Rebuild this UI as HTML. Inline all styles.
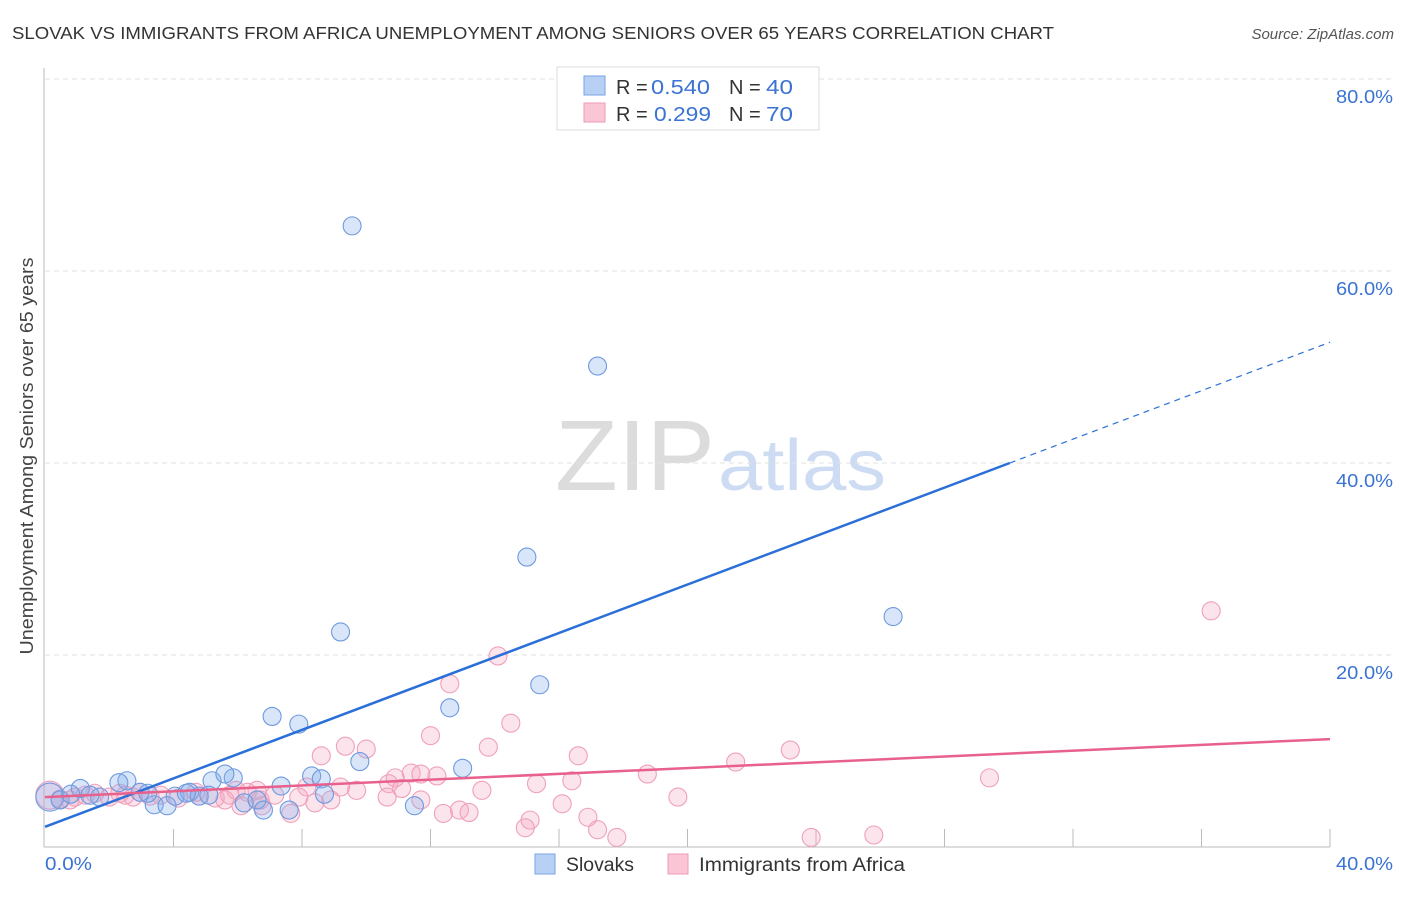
<!DOCTYPE html>
<html><head><meta charset="utf-8"><style>
body{margin:0;background:#fff;font-family:"Liberation Sans",sans-serif}
svg text{font-family:"Liberation Sans",sans-serif}
</style></head><body>
<svg id="chart" width="1406" height="892" xmlns="http://www.w3.org/2000/svg">
<text x="12" y="39" font-size="17.5" fill="#333" textLength="1042" lengthAdjust="spacingAndGlyphs">SLOVAK VS IMMIGRANTS FROM AFRICA UNEMPLOYMENT AMONG SENIORS OVER 65 YEARS CORRELATION CHART</text>
<text x="1394" y="39" font-size="15" fill="#555" font-style="italic" text-anchor="end">Source: ZipAtlas.com</text>
<g>
<text x="555" y="490" font-size="100" font-family="Liberation Serif" fill="#dcdcdc" textLength="160" lengthAdjust="spacingAndGlyphs">ZIP</text>
<text x="718" y="490" font-size="72" fill="#cddcf2" textLength="168" lengthAdjust="spacingAndGlyphs">atlas</text>
</g>
<g id="grid"></g><g id="axes"></g><g id="marks"></g>
<text transform="translate(33,456) rotate(-90)" font-size="18.5" fill="#444" text-anchor="middle" textLength="397" lengthAdjust="spacingAndGlyphs">Unemployment Among Seniors over 65 years</text>
<text x="45" y="870" font-size="18.5" fill="#3b73d4" textLength="47" lengthAdjust="spacingAndGlyphs">0.0%</text>
<text x="1393" y="870" font-size="18.5" fill="#3b73d4" text-anchor="end" textLength="57" lengthAdjust="spacingAndGlyphs">40.0%</text>
<g>
<rect x="557" y="67" width="262" height="63" fill="#fff" stroke="#ddd"/>
<rect x="584" y="76" width="21" height="19" fill="#b8d0f4" stroke="#7aa3e5"/>
<rect x="584" y="103" width="21" height="19" fill="#fac5d4" stroke="#ee9ab5"/>
<text x="616" y="94" font-size="20" fill="#333">R = </text><text x="651" y="94" font-size="20" fill="#3b73d4" textLength="59" lengthAdjust="spacingAndGlyphs">0.540</text>
<text x="729" y="94" font-size="20" fill="#333">N = </text><text x="766" y="94" font-size="20" fill="#3b73d4" textLength="27" lengthAdjust="spacingAndGlyphs">40</text>
<text x="616" y="121" font-size="20" fill="#333">R = </text><text x="654" y="121" font-size="20" fill="#3b73d4" textLength="57" lengthAdjust="spacingAndGlyphs">0.299</text>
<text x="729" y="121" font-size="20" fill="#333">N = </text><text x="766" y="121" font-size="20" fill="#3b73d4" textLength="27" lengthAdjust="spacingAndGlyphs">70</text>
</g>
<g>
<rect x="535" y="854" width="20" height="20" fill="#b8d0f4" stroke="#7aa3e5"/>
<text x="566" y="871" font-size="19" fill="#333" textLength="68" lengthAdjust="spacingAndGlyphs">Slovaks</text>
<rect x="668" y="854" width="20" height="20" fill="#fac5d4" stroke="#ee9ab5"/>
<text x="699" y="871" font-size="19" fill="#333" textLength="206" lengthAdjust="spacingAndGlyphs">Immigrants from Africa</text>
</g>
</svg>
<script>
const yTicks=[20,40,60,80];
const yTickLabels=["20.0%","40.0%","60.0%","80.0%"];
const slovakX=[9.56,17.2,15.0,26.4,9.2,15.4,12.6,7.07,7.9,13.0,9.8,8.3,8.6,7.35,5.86,5.2,5.6,2.55,2.3,1.1,0.15,0.47,1.7,2.96,4.05,4.5,4.8,5.1,3.4,3.8,6.2,6.6,6.8,7.6,8.7,11.5,0.8,1.4,3.2,4.4];
const slovakY=[64.7,50.1,30.2,24.0,22.4,16.9,14.5,13.6,12.8,8.2,8.9,7.4,7.1,6.35,7.2,6.9,7.6,6.9,6.7,6.1,5.2,4.9,5.2,5.7,5.3,5.7,5.3,5.4,4.4,4.3,4.6,4.9,3.85,3.85,5.5,4.3,5.5,5.4,5.6,5.6];
const africaX=[12.6,14.1,12.0,14.5,8.6,9.35,10.0,13.8,16.6,23.2,21.5,29.4,36.3,18.75,16.4,15.3,11.4,11.7,12.2,10.9,10.7,11.1,9.7,9.2,8.15,8.9,10.65,13.6,19.7,8.4,6.75,6.1,7.65,4.8,5.3,5.75,6.6,7.15,3.6,4.15,4.7,2.96,2.5,2.0,1.55,0.93,0.47,0.15,1.25,2.33,2.74,3.27,12.4,12.9,13.2,16.1,16.9,14.95,15.1,17.2,17.8,23.85,25.8,5.95,6.3,7.9,11.7,6.7,5.6,0.78];
const africaY=[17.0,19.9,11.6,12.9,9.5,10.5,10.2,10.4,9.5,10.1,8.85,7.2,24.6,7.6,6.9,6.6,7.7,7.6,7.4,7.2,6.6,6.1,5.9,6.25,6.25,4.9,5.2,5.9,5.2,4.6,4.3,4.3,3.5,5.3,5.1,5.4,5.9,5.4,5.4,5.1,5.7,5.7,5.4,5.2,5.6,5.2,5.0,5.4,5.4,5.6,5.2,5.3,3.5,3.85,3.6,4.5,3.1,2.0,2.8,1.8,1.0,1.0,1.25,5.9,5.7,5.2,4.9,4.9,4.9,4.9];
const slovakTrend=[2.1,1.262];
const africaTrend=[5.2,0.151];
const NS="http://www.w3.org/2000/svg";
const X0=45,X1=1330,Y0=847,Y80=79;
const xs=v=>X0+(X1-X0)*v/40;
const ys=v=>Y0-(Y0-Y80)*v/80;
function mk(tag,attrs,parent){const e=document.createElementNS(NS,tag);for(const k in attrs)e.setAttribute(k,attrs[k]);parent.appendChild(e);return e;}
const grid=document.getElementById('grid'),axes=document.getElementById('axes'),marks=document.getElementById('marks');
yTicks.forEach((t,i)=>{
 const l=mk('line',{x1:45,x2:1393,y1:ys(t),y2:ys(t),stroke:'#e2e2e2','stroke-dasharray':'5,4'},grid);
 
 
 const tx=mk('text',{x:1393,y:ys(t)+24,'font-size':18.5,fill:'#3b73d4','text-anchor':'end',textLength:57,lengthAdjust:'spacingAndGlyphs'},grid);
 tx.textContent=yTickLabels[i];
 
 
});
const ya=mk('line',{x1:44,x2:44,y1:68,y2:847,stroke:'#bbb'},axes);


const xa=mk('line',{x1:44,x2:1330,y1:847,y2:847,stroke:'#bbb'},axes);


for(let v=4;v<=40;v+=4){
 const t=mk('line',{x1:xs(v),x2:xs(v),y1:829,y2:847,stroke:'#bbb'},axes);
 
 
}
function dots(xv,yv,fill,stroke,name){
 xv.forEach((x,i)=>{
  const r=(x<0.3)?14:9;
  const c=mk('circle',{cx:xs(x),cy:ys(yv[i]),r:r,fill:fill,stroke:stroke,'stroke-width':1.1},marks);
  
  
 });
}
dots(africaX,africaY,'rgba(244,165,192,0.3)','#efa0ba','africa-point');
dots(slovakX,slovakY,'rgba(130,172,236,0.3)','#6d9ade','slovak-point');
const xSolid=(40-slovakTrend[0])/slovakTrend[1];
const b1=mk('line',{x1:xs(0),y1:ys(slovakTrend[0]),x2:xs(xSolid),y2:ys(40),stroke:'#2b6fd8','stroke-width':2.5},marks);


const b2=mk('line',{x1:xs(xSolid),y1:ys(40),x2:xs(40),y2:ys(slovakTrend[0]+slovakTrend[1]*40),stroke:'#2b6fd8','stroke-width':1.2,'stroke-dasharray':'6,5'},marks);


const p1=mk('line',{x1:xs(0),y1:ys(africaTrend[0]),x2:xs(40),y2:ys(africaTrend[0]+africaTrend[1]*40),stroke:'#e8608c','stroke-width':2.5},marks);


</script>
</body></html>
